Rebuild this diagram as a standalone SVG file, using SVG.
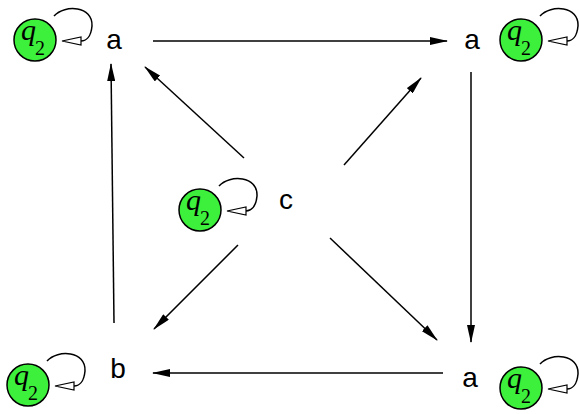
<svg xmlns="http://www.w3.org/2000/svg" xmlns:xlink="http://www.w3.org/1999/xlink" width="579" height="414" viewBox="0 0 579 414">
<style>
.st{fill:#3cf03c;stroke:#000;stroke-width:1.5}
.q{font-family:"Liberation Serif",serif;font-style:italic;font-size:30px;fill:#000}
.sub{font-size:20px;font-style:normal}
.lbl{font-family:"Liberation Sans",Arial,sans-serif;font-size:28px;fill:#000;text-anchor:middle}
.loop{fill:none;stroke:#000;stroke-width:1.5}
.oh{fill:#fff;stroke:#000;stroke-width:1.2}
.edge{fill:none;stroke:#000;stroke-width:1.5;marker-end:url(#ah)}
</style>
<defs>
<marker id="ah" viewBox="0 0 18 8" refX="17" refY="4" markerWidth="18" markerHeight="8" markerUnits="userSpaceOnUse" orient="auto">
<path d="M0,0 L18,4 L0,8 Z" fill="#000"/>
</marker>
<g id="self">
<path class="loop" d="M19,-24 C30,-36 58,-34 57,-14 C56,-3 51,1 46,1"/>
<polygon class="oh" points="27,1 46,-3 46,5"/>
</g>
</defs>
<g id="edges">
<path class="edge" d="M153,41 L447,41"/>
<path class="edge" d="M471,72 L471,342"/>
<path class="edge" d="M443,373 L153,373"/>
<path class="edge" d="M114,323 L111,64"/>
<path class="edge" d="M244,158 L145,67"/>
<path class="edge" d="M344,165 L421,78"/>
<path class="edge" d="M238,245 L154,329"/>
<path class="edge" d="M330,238 L437,340"/>
</g>
<g id="n1">
<circle class="st" cx="35" cy="40" r="21"/>
<use xlink:href="#self" x="35" y="40"/>
<text class="q" x="21" y="40">q<tspan class="sub" dx="-1" dy="15">2</tspan></text>
<text class="lbl" x="114" y="49">a</text>
</g>
<g id="n2">
<circle class="st" cx="521" cy="40" r="21"/>
<use xlink:href="#self" x="521" y="40"/>
<text class="q" x="507" y="40">q<tspan class="sub" dx="-1" dy="15">2</tspan></text>
<text class="lbl" x="472" y="49">a</text>
</g>
<g id="n3">
<circle class="st" cx="200" cy="210" r="21"/>
<use xlink:href="#self" x="200" y="210"/>
<text class="q" x="186" y="210">q<tspan class="sub" dx="-1" dy="15">2</tspan></text>
<text class="lbl" x="286" y="209">c</text>
</g>
<g id="n4">
<circle class="st" cx="28" cy="385" r="21"/>
<use xlink:href="#self" x="28" y="385"/>
<text class="q" x="14" y="385">q<tspan class="sub" dx="-1" dy="15">2</tspan></text>
<text class="lbl" x="118" y="378">b</text>
</g>
<g id="n5">
<circle class="st" cx="521" cy="388" r="21"/>
<use xlink:href="#self" x="521" y="388"/>
<text class="q" x="507" y="388">q<tspan class="sub" dx="-1" dy="15">2</tspan></text>
<text class="lbl" x="470" y="387">a</text>
</g>
</svg>
